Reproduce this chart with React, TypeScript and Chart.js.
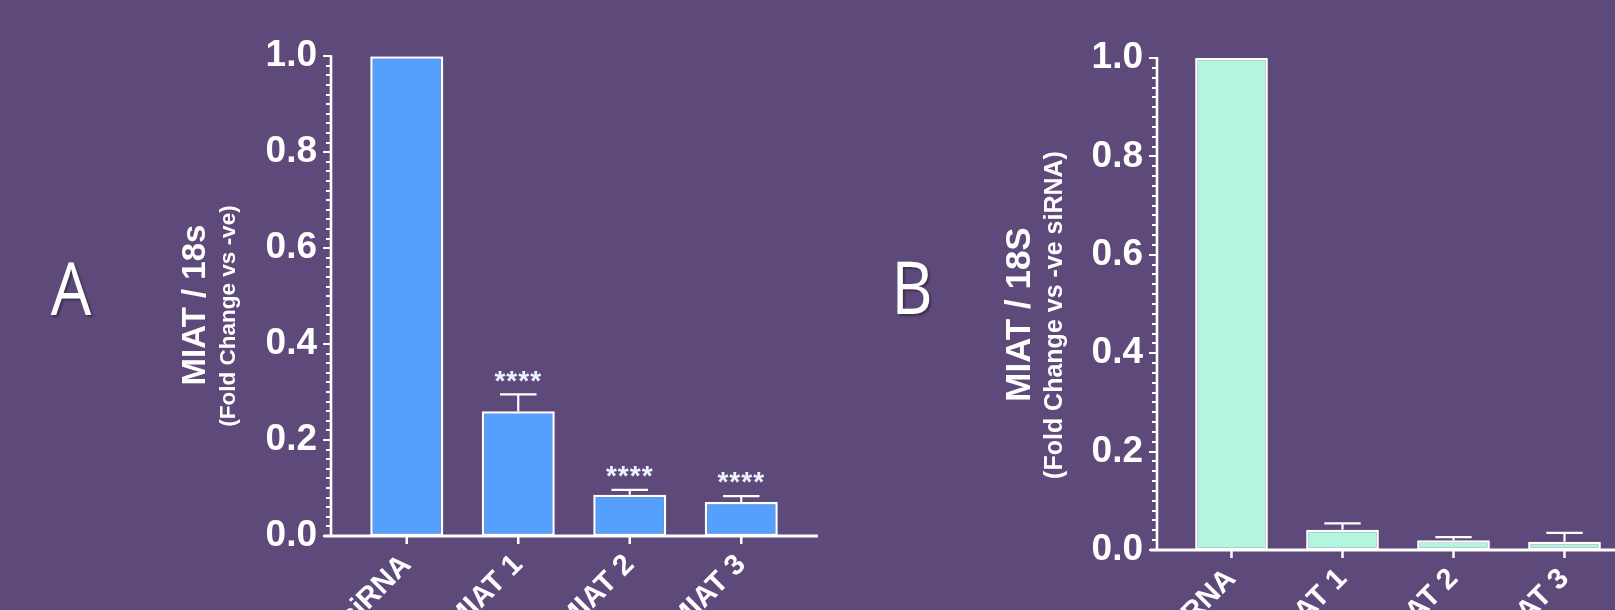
import React, { useEffect, useRef } from 'react';
import { Chart, registerables } from 'chart.js';

Chart.register(...registerables);

// ---------- data ----------
const categoriesA = ['-ve siRNA', 'siMIAT 1', 'siMIAT 2', 'siMIAT 3'];
const meansA = [1.0, 0.26, 0.086, 0.071];
const errTopA = [1.0, 0.295, 0.096, 0.083];
const starsA = ['', '****', '****', '****'];

const categoriesB = ['-ve siRNA', 'siMIAT 1', 'siMIAT 2', 'siMIAT 3'];
const meansB = [1.0, 0.041, 0.02, 0.017];
const errTopB = [1.0, 0.054, 0.026, 0.035];
const starsB = ['', '', '', ''];

const yMajorTicks = [0, 0.2, 0.4, 0.6, 0.8, 1.0];
const yMinorStep = 0.02;

const panelLetters = ['A', 'B'];
const yTitlesA = ['MIAT / 18s', '(Fold Change vs -ve)'];
const yTitlesB = ['MIAT / 18S', '(Fold Change vs -ve siRNA)'];

// ---------- style ----------
const BG = '#5E4A7A';
const WHITE = '#FFFFFF';
const FONT = "'Liberation Sans', Arial, sans-serif";

type Panel = {
  canvasLeft: number;
  canvasWidth: number;
  categories: string[];
  means: number[];
  errTop: number[];
  stars: string[];
  color: string;
  padTop: number;
  padRight: number;
  yWidth: number;
  xHeight: number;
  yTickPad: number;
  axisGap: number;
  xAxisEnd: number;
  letter: { text: string; x: number; y: number };
  title: { text: string; x: number; y: number; size: number };
  sub: { text: string; x: number; y: number; size: number };
};

const panels: Panel[] = [
  {
    canvasLeft: 0,
    canvasWidth: 830,
    categories: categoriesA,
    means: meansA,
    errTop: errTopA,
    stars: starsA,
    color: '#55A0FC',
    padTop: 55,
    padRight: 33,
    yWidth: 351,
    xHeight: 74,
    yTickPad: 34,
    axisGap: 20,
    xAxisEnd: 818,
    letter: { text: panelLetters[0], x: 71, y: 315 },
    title: { text: yTitlesA[0], x: 205, y: 305, size: 33 },
    sub: { text: yTitlesA[1], x: 235, y: 316, size: 22.5 },
  },
  {
    canvasLeft: 830,
    canvasWidth: 800,
    categories: categoriesB,
    means: meansB,
    errTop: errTopB,
    stars: starsB,
    color: '#B3F5DE',
    padTop: 58,
    padRight: 10,
    yWidth: 346,
    xHeight: 60,
    yTickPad: 33,
    axisGap: 19,
    xAxisEnd: 800,
    letter: { text: panelLetters[1], x: 82, y: 314 },
    title: { text: yTitlesB[0], x: 200, y: 314.5, size: 35 },
    sub: { text: yTitlesB[1], x: 231.5, y: 315, size: 25 },
  },
];

function makeOverlay(p: Panel) {
  return {
    id: 'overlay',
    afterDatasetsDraw(chart: any) {
      const ctx: CanvasRenderingContext2D = chart.ctx;
      const y = chart.scales.y;
      const x = chart.scales.x;
      const area = chart.chartArea;
      const axisX = area.left - p.axisGap;
      const y0 = y.getPixelForValue(0);
      const y1 = y.getPixelForValue(1);
      ctx.save();
      ctx.strokeStyle = WHITE;
      ctx.fillStyle = WHITE;

      // error bars (upper only)
      const meta = chart.getDatasetMeta(0);
      meta.data.forEach((bar: any, i: number) => {
        const top = p.errTop[i];
        if (top > p.means[i]) {
          const yb = y.getPixelForValue(p.means[i]);
          const yt = y.getPixelForValue(top);
          const half = bar.width * 0.25;
          ctx.lineWidth = 2.2;
          ctx.beginPath();
          ctx.moveTo(bar.x, yb);
          ctx.lineTo(bar.x, yt);
          ctx.moveTo(bar.x - half, yt);
          ctx.lineTo(bar.x + half, yt);
          ctx.stroke();
        }
        if (p.stars[i]) {
          const yt = y.getPixelForValue(Math.max(top, p.means[i]));
          ctx.font = `bold 28px ${FONT}`;
          ctx.fillStyle = '#EEF4FF';
          ctx.textAlign = 'center';
          ctx.textBaseline = 'alphabetic';
          const cy = yt - 21;
          (ctx as any).letterSpacing = '1px';
          ctx.fillText(p.stars[i], bar.x, cy + 0.573 * 28);
          (ctx as any).letterSpacing = '0px';
        }
      });

      ctx.fillStyle = WHITE;
      // y axis line
      ctx.lineWidth = 2.6;
      ctx.beginPath();
      ctx.moveTo(axisX, y1 - 1);
      ctx.lineTo(axisX, y0);
      ctx.stroke();
      // y ticks
      const n = Math.round(1 / yMinorStep);
      for (let k = 0; k <= n; k++) {
        const v = k * yMinorStep;
        const isMajor = yMajorTicks.some((m) => Math.abs(m - v) < 1e-6);
        const py = Math.round(y.getPixelForValue(v));
        ctx.lineWidth = 2;
        ctx.beginPath();
        ctx.moveTo(axisX, py);
        ctx.lineTo(axisX - (isMajor ? 8 : 5), py);
        ctx.stroke();
      }
      // x axis line
      ctx.lineWidth = 3;
      ctx.beginPath();
      ctx.moveTo(axisX - 7, y0);
      ctx.lineTo(p.xAxisEnd, y0);
      ctx.stroke();
      // x ticks
      ctx.lineWidth = 2.5;
      p.categories.forEach((_c, i) => {
        const px = x.getPixelForValue(i);
        ctx.beginPath();
        ctx.moveTo(px, y0);
        ctx.lineTo(px, y0 + 8);
        ctx.stroke();
      });

      // panel letter
      ctx.save();
      ctx.shadowColor = 'rgba(0,0,0,0.35)';
      ctx.shadowOffsetX = 2;
      ctx.shadowOffsetY = 2;
      ctx.shadowBlur = 2;
      ctx.translate(p.letter.x, p.letter.y);
      ctx.scale(0.88, 1);
      ctx.font = `400 73px 'Open Sans', 'Noto Sans', sans-serif`;
      ctx.textAlign = 'center';
      ctx.textBaseline = 'alphabetic';
      ctx.fillText(p.letter.text, 0, 0);
      ctx.restore();

      // y titles
      const drawRot = (t: { text: string; x: number; y: number; size: number }) => {
        ctx.save();
        ctx.translate(t.x, t.y);
        ctx.rotate(-Math.PI / 2);
        ctx.font = `bold ${t.size}px ${FONT}`;
        ctx.textAlign = 'center';
        ctx.textBaseline = 'alphabetic';
        ctx.fillText(t.text, 0, 0);
        ctx.restore();
      };
      drawRot(p.title);
      drawRot(p.sub);
      ctx.restore();
    },
  };
}

function PanelChart({ p }: { p: Panel }) {
  const ref = useRef<HTMLCanvasElement | null>(null);
  useEffect(() => {
    if (!ref.current) return;
    const chart = new Chart(ref.current, {
      type: 'bar',
      data: {
        labels: p.categories,
        datasets: [
          {
            data: p.means,
            backgroundColor: p.color,
            borderColor: WHITE,
            borderWidth: 2.5,
            borderSkipped: false,
            barPercentage: 0.655,
            categoryPercentage: 1,
          },
        ],
      },
      options: {
        animation: false,
        responsive: false,
        maintainAspectRatio: false,
        devicePixelRatio: 1,
        layout: { padding: { top: p.padTop, right: p.padRight, left: 0, bottom: 0 } },
        plugins: { legend: { display: false }, tooltip: { enabled: false } },
        scales: {
          x: {
            grid: { display: false, drawTicks: false },
            border: { display: false },
            ticks: {
              color: WHITE,
              font: { family: FONT, size: 29, weight: 'bold' },
              minRotation: 45,
              maxRotation: 45,
              padding: 12,
              autoSkip: false,
            },
            afterFit: (s: any) => {
              s.height = p.xHeight;
            },
          },
          y: {
            min: 0,
            max: 1,
            grid: { display: false, drawTicks: false },
            border: { display: false },
            ticks: {
              stepSize: 0.2,
              color: WHITE,
              font: { family: FONT, size: 37, weight: 'bold' },
              padding: p.yTickPad,
              callback: (v: any) => Number(v).toFixed(1),
            },
            afterFit: (s: any) => {
              s.width = p.yWidth;
            },
          },
        },
      } as any,
      plugins: [makeOverlay(p)],
    });
    return () => chart.destroy();
  }, [p]);
  return (
    <canvas
      ref={ref}
      width={p.canvasWidth}
      height={610}
      style={{ position: 'absolute', left: p.canvasLeft, top: 0, width: p.canvasWidth, height: 610 }}
    />
  );
}

export default function App() {
  return (
    <div
      style={{
        position: 'fixed',
        left: 0,
        top: 0,
        width: 1615,
        height: 610,
        overflow: 'hidden',
        background: BG,
      }}
    >
      {panels.map((p, i) => (
        <PanelChart key={i} p={p} />
      ))}
    </div>
  );
}
